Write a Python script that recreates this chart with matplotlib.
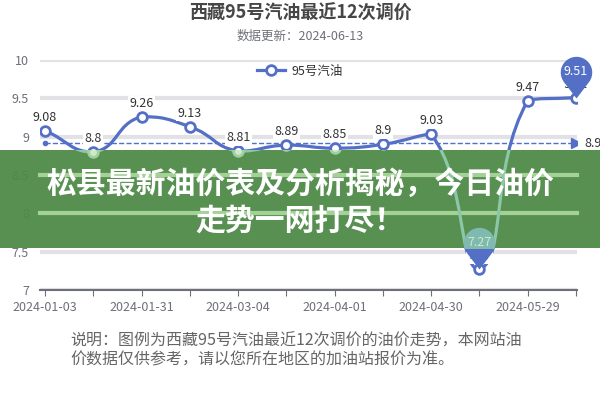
import numpy as np
import matplotlib.pyplot as plt
from matplotlib.path import Path
from matplotlib.patches import PathPatch, Rectangle

plt.rcParams['font.family'] = ['Noto Sans CJK SC', 'DejaVu Sans']

# data (dates are blurred in the source, so they are guesses)
dates = ['2024-01-03', '2024-01-17', '2024-01-31', '2024-02-19', '2024-03-04', '2024-03-18',
         '2024-04-01', '2024-04-16', '2024-04-30', '2024-05-15', '2024-05-29', '2024-06-13']
prices = [9.08, 8.8, 9.26, 9.13, 8.81, 8.89, 8.85, 8.9, 9.03, 7.27, 9.47, 9.51]
y_ticks = [7, 7.5, 8, 8.5, 9, 9.5, 10]

title = '西藏95号汽油最近12次调价'
subtitle = '数据更新：' + dates[-1]
series_name = '95号汽油'
banner_lines = ['松县最新油价表及分析揭秘，今日油价', '走势一网打尽！']
note_lines = ['说明：图例为西藏95号汽油最近12次调价的油价走势，本网站油',
              '价数据仅供参考，请以您所在地区的加油站报价为准。']

blue = '#5470c6'
grey = '#6e7079'


def smooth_path(xs, ys, sx, sy, smooth=0.5):
    # echarts-like smoothing, done in pixel-ish space then mapped back
    px = np.asarray(xs, float) * sx
    py = np.asarray(ys, float) * sy
    n = len(px)
    cp0, cp1 = [], []
    for i in range(n):
        a, b = max(i - 1, 0), min(i + 1, n - 1)
        vx, vy = px[b] - px[a], py[b] - py[a]
        lp = np.hypot(px[i] - px[a], py[i] - py[a])
        ln = np.hypot(px[b] - px[i], py[b] - py[i])
        r = ln / (ln + lp) if ln + lp > 0 else 0.5
        c0 = [px[i] - vx * smooth * (1 - r), py[i] - vy * smooth * (1 - r)]
        c1 = [px[i] + vx * smooth * r, py[i] + vy * smooth * r]
        c0[0] = np.clip(c0[0], min(px[a], px[i]), max(px[a], px[i]))
        c0[1] = np.clip(c0[1], min(py[a], py[i]), max(py[a], py[i]))
        c1[0] = np.clip(c1[0], min(px[b], px[i]), max(px[b], px[i]))
        c1[1] = np.clip(c1[1], min(py[b], py[i]), max(py[b], py[i]))
        cp0.append(c0)
        cp1.append(c1)
    verts = [(px[0], py[0])]
    codes = [Path.MOVETO]
    for i in range(n - 1):
        verts += [tuple(cp1[i]), tuple(cp0[i + 1]), (px[i + 1], py[i + 1])]
        codes += [Path.CURVE4] * 3
    verts = np.array(verts) / [sx, sy]
    return Path(verts, codes)


def pin_marker():
    c, r = 1.4, 0.85
    phi = np.arccos(r / c)
    t = np.linspace(-np.pi / 2 + phi, 3 * np.pi / 2 - phi, 40)
    pts = [(0, 0)] + [(r * np.cos(a), c + r * np.sin(a)) for a in t] + [(0, 0)]
    return Path(pts, [Path.MOVETO] + [Path.LINETO] * (len(pts) - 2) + [Path.CLOSEPOLY])


fig = plt.figure(figsize=(6, 4), dpi=100)
ax = fig.add_axes([40 / 600, 110 / 400, 537 / 600, 230 / 400])
x = np.arange(len(prices))
ax.set_xlim(-0.104, len(prices) - 1 + 0.02)
ax.set_ylim(y_ticks[0], y_ticks[-1])

ax.set_yticks(y_ticks)
ax.set_yticklabels([f'{v:g}' for v in y_ticks])
ax.set_xticks(x)
ax.set_xticklabels([d if i % 2 == 0 else '' for i, d in enumerate(dates)])
ax.tick_params(axis='y', length=0, pad=8, colors=grey, labelsize=9)
ax.tick_params(axis='x', length=4, color=grey, colors=grey, labelsize=9, pad=4)
for s in ['top', 'right', 'left']:
    ax.spines[s].set_visible(False)
ax.spines['bottom'].set_color(grey)
ax.spines['bottom'].set_linewidth(1.5)
ax.grid(axis='y', color='#e2e2e6', lw=3)
ax.set_axisbelow(True)

# series line + points
sx = 537 / (ax.get_xlim()[1] - ax.get_xlim()[0])
sy = 230 / (y_ticks[-1] - y_ticks[0])
curve = smooth_path(x, prices, sx, sy)
ax.add_patch(PathPatch(curve, fill=False, edgecolor=blue, lw=2.3, capstyle='round', zorder=3))
ax.plot(x, prices, 'o', ms=7, mfc='white', mec=blue, mew=2, zorder=4)
for i, v in zip(x, prices):
    ax.annotate(f'{v:g}', (i, v), xytext=(0, 5), textcoords='offset points', ha='center',
                va='bottom', fontsize=9, color='#333333', zorder=5,
                bbox=dict(boxstyle='square,pad=0.1', fc='white', ec='none'))

# average mark line
avg = np.mean(prices)
ax.plot([x[0], x[-1]], [avg, avg], ls='--', color=blue, lw=1, zorder=3)
ax.plot(x[0], avg, 'o', ms=3, color=blue, zorder=3)
ax.plot(x[-1], avg, '>', ms=7, color=blue, zorder=3)
ax.annotate(f'{avg:.2f}', (x[-1], avg), xytext=(6, 0), textcoords='offset points',
            va='center', ha='left', fontsize=9, color='#333333', annotation_clip=False)

# max / min pins
pin = pin_marker()
imin = int(np.argmin(prices))
for i in [int(np.argmax(prices)), imin]:
    ax.plot(i, prices[i], marker=pin, ms=60, color=blue, mew=0, zorder=6, clip_on=False)
    ax.annotate(f'{prices[i]:g}', (i, prices[i]), xytext=(0, 19), textcoords='offset points',
                ha='center', va='center', fontsize=9, color='white', zorder=7,
                annotation_clip=False)

# legend
h, = ax.plot([], [], '-o', color=blue, lw=2.3, ms=7, mfc='white', mec=blue, mew=2)
fig.legend([h], [series_name], loc='center', bbox_to_anchor=(0.5, 1 - 71 / 400), frameon=False,
           fontsize=9, labelcolor='#333333', handlelength=2.2, handletextpad=0.5)

# titles
fig.text(0.5, 1 - 13 / 400, title, ha='center', va='center', fontsize=13, weight='bold',
         color='#464646')
fig.text(0.5, 1 - 36 / 400, subtitle, ha='center', va='center', fontsize=9, color=grey)

# green banner on top of the chart
banner = Rectangle((0, 1 - 248 / 400), 1, 98 / 400, transform=fig.transFigure,
                   fc='#4e8a48', ec='none', alpha=0.95, zorder=10, clip_on=False)
ax.add_patch(banner)
for v in y_ticks:
    gl = ax.axhline(v, color='#a3d196', lw=3, zorder=11)
    gl.set_clip_path(banner)
lc = PathPatch(curve, fill=False, edgecolor='#8cc7a6', lw=2.3, zorder=11)
ax.add_patch(lc)
lc.set_clip_path(banner)
mk, = ax.plot(x, prices, 'o', ms=7, mfc='#cfe9c6', mec='#9fd0a0', mew=2, zorder=11)
mk.set_clip_path(banner)
pm, = ax.plot(imin, prices[imin], marker=pin, ms=60, color='#7fb9b0', mew=0, zorder=11)
pm.set_clip_path(banner)
ax.annotate(f'{prices[imin]:g}', (imin, prices[imin]), xytext=(0, 19), textcoords='offset points',
            ha='center', va='center', fontsize=9, color='#cdebc4', zorder=11)

fig.text(0.5, 1 - 184 / 400, banner_lines[0], ha='center', va='center', fontsize=21.5,
         weight='bold', color='white', zorder=12)
fig.text(0.5, 1 - 221 / 400, banner_lines[1], ha='center', va='center', fontsize=21.5,
         weight='bold', color='white', zorder=12)

# note under the chart
fig.text(70 / 600, 1 - 341 / 400, note_lines[0], ha='left', va='center', fontsize=11.5,
         color='#666666')
fig.text(70 / 600, 1 - 360 / 400, note_lines[1], ha='left', va='center', fontsize=11.5,
         color='#666666')

fig.savefig('out.png', dpi=100)
